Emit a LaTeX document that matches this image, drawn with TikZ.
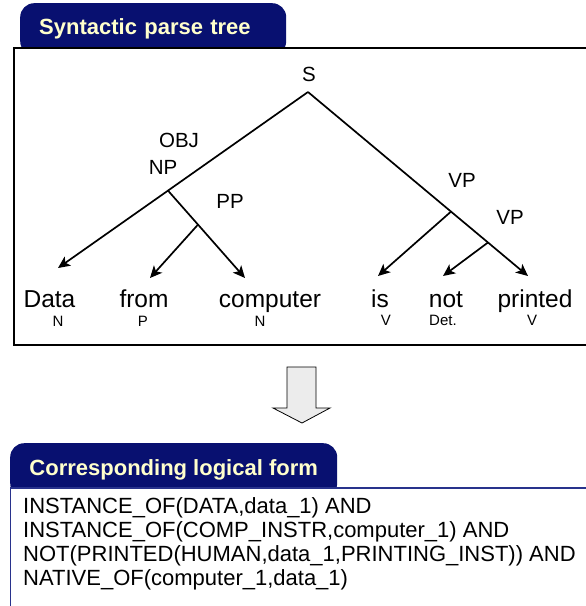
\documentclass[tikz,border=0pt]{standalone}
\usepackage{fontspec}
\setmainfont{Liberation Sans}
\usetikzlibrary{arrows.meta}
\definecolor{Navy}{RGB}{8,16,112}
\definecolor{Cream}{RGB}{255,255,204}
\definecolor{FrameBlue}{RGB}{40,50,140}
\definecolor{LGray}{RGB}{236,236,236}
\tikzset{
    tab/.style={fill=Navy, text=Cream, font=\bfseries\fontsize{22}{26}\selectfont,
        rounded corners=14pt, anchor=north west},
    word/.style={font=\fontsize{24.5}{28}\selectfont, anchor=base, inner sep=0pt},
    cat/.style={font=\fontsize{20.5}{24}\selectfont, anchor=base, inner sep=0pt},
    tag/.style={font=\fontsize{15}{18}\selectfont, anchor=base, inner sep=0pt},
    logic/.style={font=\fontsize{22}{25}\selectfont, anchor=base west, inner sep=0pt},
    branch/.style={line width=1.7pt},
    leaf/.style={branch, -{Stealth[length=12pt, width=11pt, inset=3pt]}},
}
\newcommand{\Layout}{
\useasboundingbox (0,0) rectangle (586,606);
\fill[white] (0,0) rectangle (586,606);

\begin{scope}[name prefix=T-]
    \coordinate (apex) at (308,92);
    \coordinate (np) at (168,190.6);
    \coordinate (pp) at (198,224.6);
    \coordinate (vp-upper) at (451,211.6);
    \coordinate (vp-lower) at (488,242.5);
    \coordinate (data) at (58,268);
    \coordinate (from) at (150,278);
    \coordinate (computer) at (245,278);
    \coordinate (is) at (378,276);
    \coordinate (not) at (443,276);
    \coordinate (printed) at (528,276);
\end{scope}
}

\begin{document}
\begin{tikzpicture}[x=1pt, y=-1pt]
\Layout
% parse tree panel
\node[tab, minimum width=266pt, minimum height=52pt, inner xsep=19pt, text width=228pt, align=left] (tree-tab) at (20,3) {Syntactic parse tree};
\fill[white] (14,48) rectangle (586,345);
\draw[line width=1.5pt] (586,48) -- (14,48) -- (14,345) -- (586,345);

\node[cat] (cat-s) at (309,81) {S};
\node[cat] (cat-obj) at (179,147) {OBJ};
\node[cat] (cat-np) at (163,174) {NP};
\node[cat] (cat-pp) at (230,208) {PP};
\node[cat] (cat-vp1) at (462,187) {VP};
\node[cat] (cat-vp2) at (510,224) {VP};

\draw[leaf] (T-apex) -- (T-np) -- (T-data);
\draw[leaf] (T-np) -- (T-pp) -- (T-computer);
\draw[leaf] (T-pp) -- (T-from);
\draw[leaf] (T-apex) -- (T-vp-upper) -- (T-vp-lower) -- (T-printed);
\draw[leaf] (T-vp-upper) -- (T-is);
\draw[leaf] (T-vp-lower) -- (T-not);

\node[word] (w-data) at (49.5,307) {Data};
\node[word] (w-from) at (144,307) {from};
\node[word] (w-computer) at (270,307) {computer};
\node[word] (w-is) at (380,307) {is};
\node[word] (w-not) at (446,307) {not};
\node[word] (w-printed) at (535,307) {printed};

\node[tag] (t-data) at (58,326) {N};
\node[tag] (t-from) at (143,326) {P};
\node[tag] (t-computer) at (260,326) {N};
\node[tag] (t-is) at (386,325) {V};
\node[tag] (t-not) at (443,325) {Det.};
\node[tag] (t-printed) at (532,325) {V};

% block arrow
\draw[line width=0.8pt, fill=LGray] (287,367) -- (316,367) -- (316,408) -- (330,408) -- (302,423) -- (273,408) -- (287,408) -- cycle;

% logical form panel
\node[tab, minimum width=327pt, minimum height=54pt] (form-tab) at (10,443) {Corresponding logical form};
\fill[white] (10,488) rectangle (586,606);
\draw[FrameBlue, line width=1.5pt] (586,488) -- (10.5,488) -- (10.5,606);

\node[logic] (lf-1) at (23,513) {INSTANCE\_OF(DATA,data\_1) AND};
\node[logic] (lf-2) at (23,537) {INSTANCE\_OF(COMP\_INSTR,computer\_1) AND};
\node[logic] (lf-3) at (23,561) {NOT(PRINTED(HUMAN,data\_1,PRINTING\_INST)) AND};
\node[logic] (lf-4) at (23,585) {NATIVE\_OF(computer\_1,data\_1)};
\end{tikzpicture}
\end{document}
